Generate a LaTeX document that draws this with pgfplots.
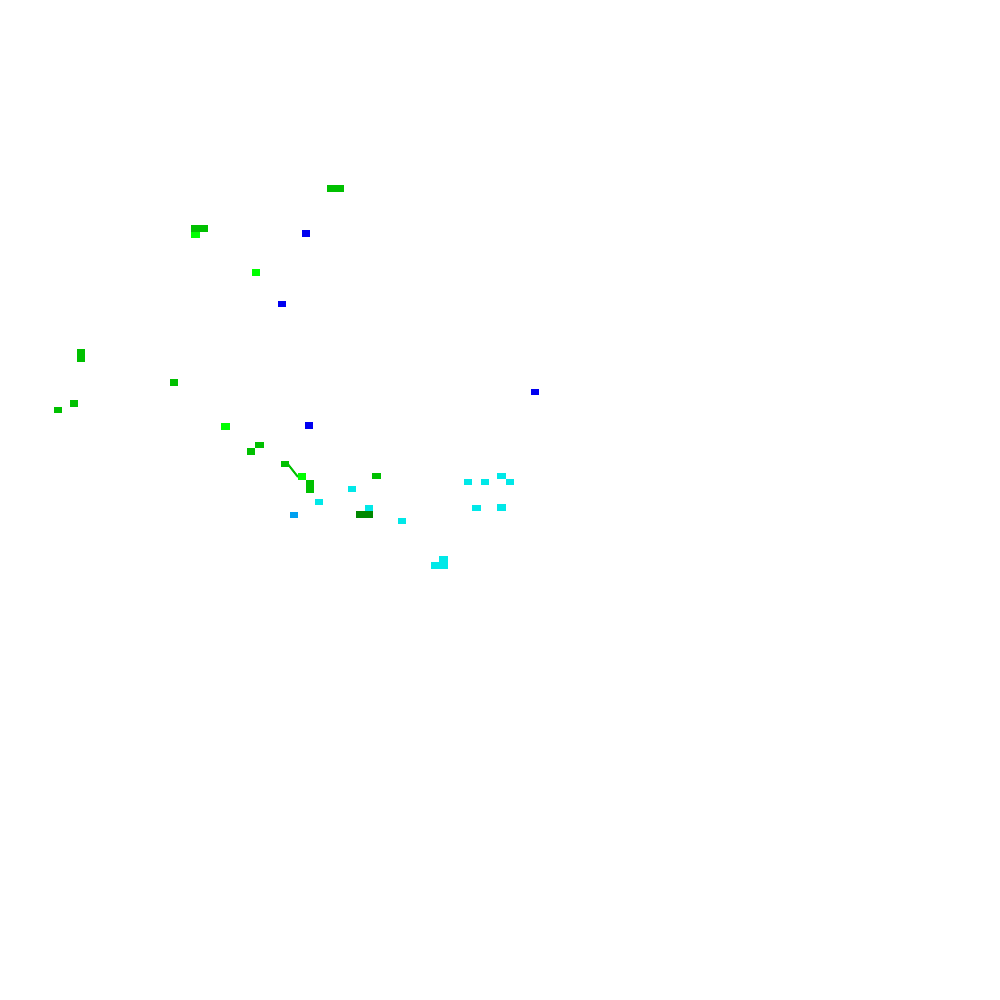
\documentclass[border=0pt]{standalone}
\usepackage{pgfplots}
\pgfplotsset{compat=1.18}
\definecolor{cgreen}{HTML}{00C000}
\definecolor{clime}{HTML}{00FF00}
\definecolor{cblue}{HTML}{0000F0}
\definecolor{ccyan}{HTML}{00E8E8}
\definecolor{cazure}{HTML}{00A0F0}
\definecolor{cdark}{HTML}{008800}
% one grid cell, about 8.4 x 6.6 px
\pgfdeclareplotmark{cell}{%
  \pgfpathrectangle{\pgfpoint{-4.2pt}{-3.3pt}}{\pgfpoint{8.4pt}{6.6pt}}%
  \pgfusepathqfill}
\begin{document}
\begin{tikzpicture}
	\begin{axis} [
		width=1000pt,
		height=1000pt,
		scale only axis,
		hide axis,
		xmin=0, xmax=1000,
		ymin=0, ymax=1000,
		y dir=reverse,
		clip=false,
	]
		\path[fill=white] (axis cs:0,0) rectangle (axis cs:1000,1000);
		\addplot[cgreen, line width=2pt] coordinates {(287,463) (298,477)};
		\addplot[only marks, mark=cell, color=cgreen] coordinates {
			(331,188.5) (339.5,188.5) (195,228.5) (203.5,228.5)
			(81,352.5) (81,359) (174,382.5) (74,403.5) (58,410)
			(259.5,445) (251,451.5) (285,464) (310,483.5) (310,490)
			(376.5,476)
		};
		\addplot[only marks, mark=cell, color=clime] coordinates {
			(195.5,235) (256,272.5) (225.5,426.5) (302,476.5)
		};
		\addplot[only marks, mark=cell, color=cblue] coordinates {
			(306,233.5) (282,304) (309,425.5) (535,392)
		};
		\addplot[only marks, mark=cell, color=ccyan] coordinates {
			(352,489) (319,502) (369,508) (402,521) (468,482) (485,482)
			(501.5,476) (510,482) (476.5,508) (501.5,507.5)
			(435.5,565.5) (443.5,565.5) (443.5,559)
		};
		\addplot[only marks, mark=cell, color=cazure] coordinates {
			(294,515)
		};
		\addplot[only marks, mark=cell, color=cdark] coordinates {
			(360.5,514.5) (369,514.5)
		};
	\end{axis}
\end{tikzpicture}
\end{document}
